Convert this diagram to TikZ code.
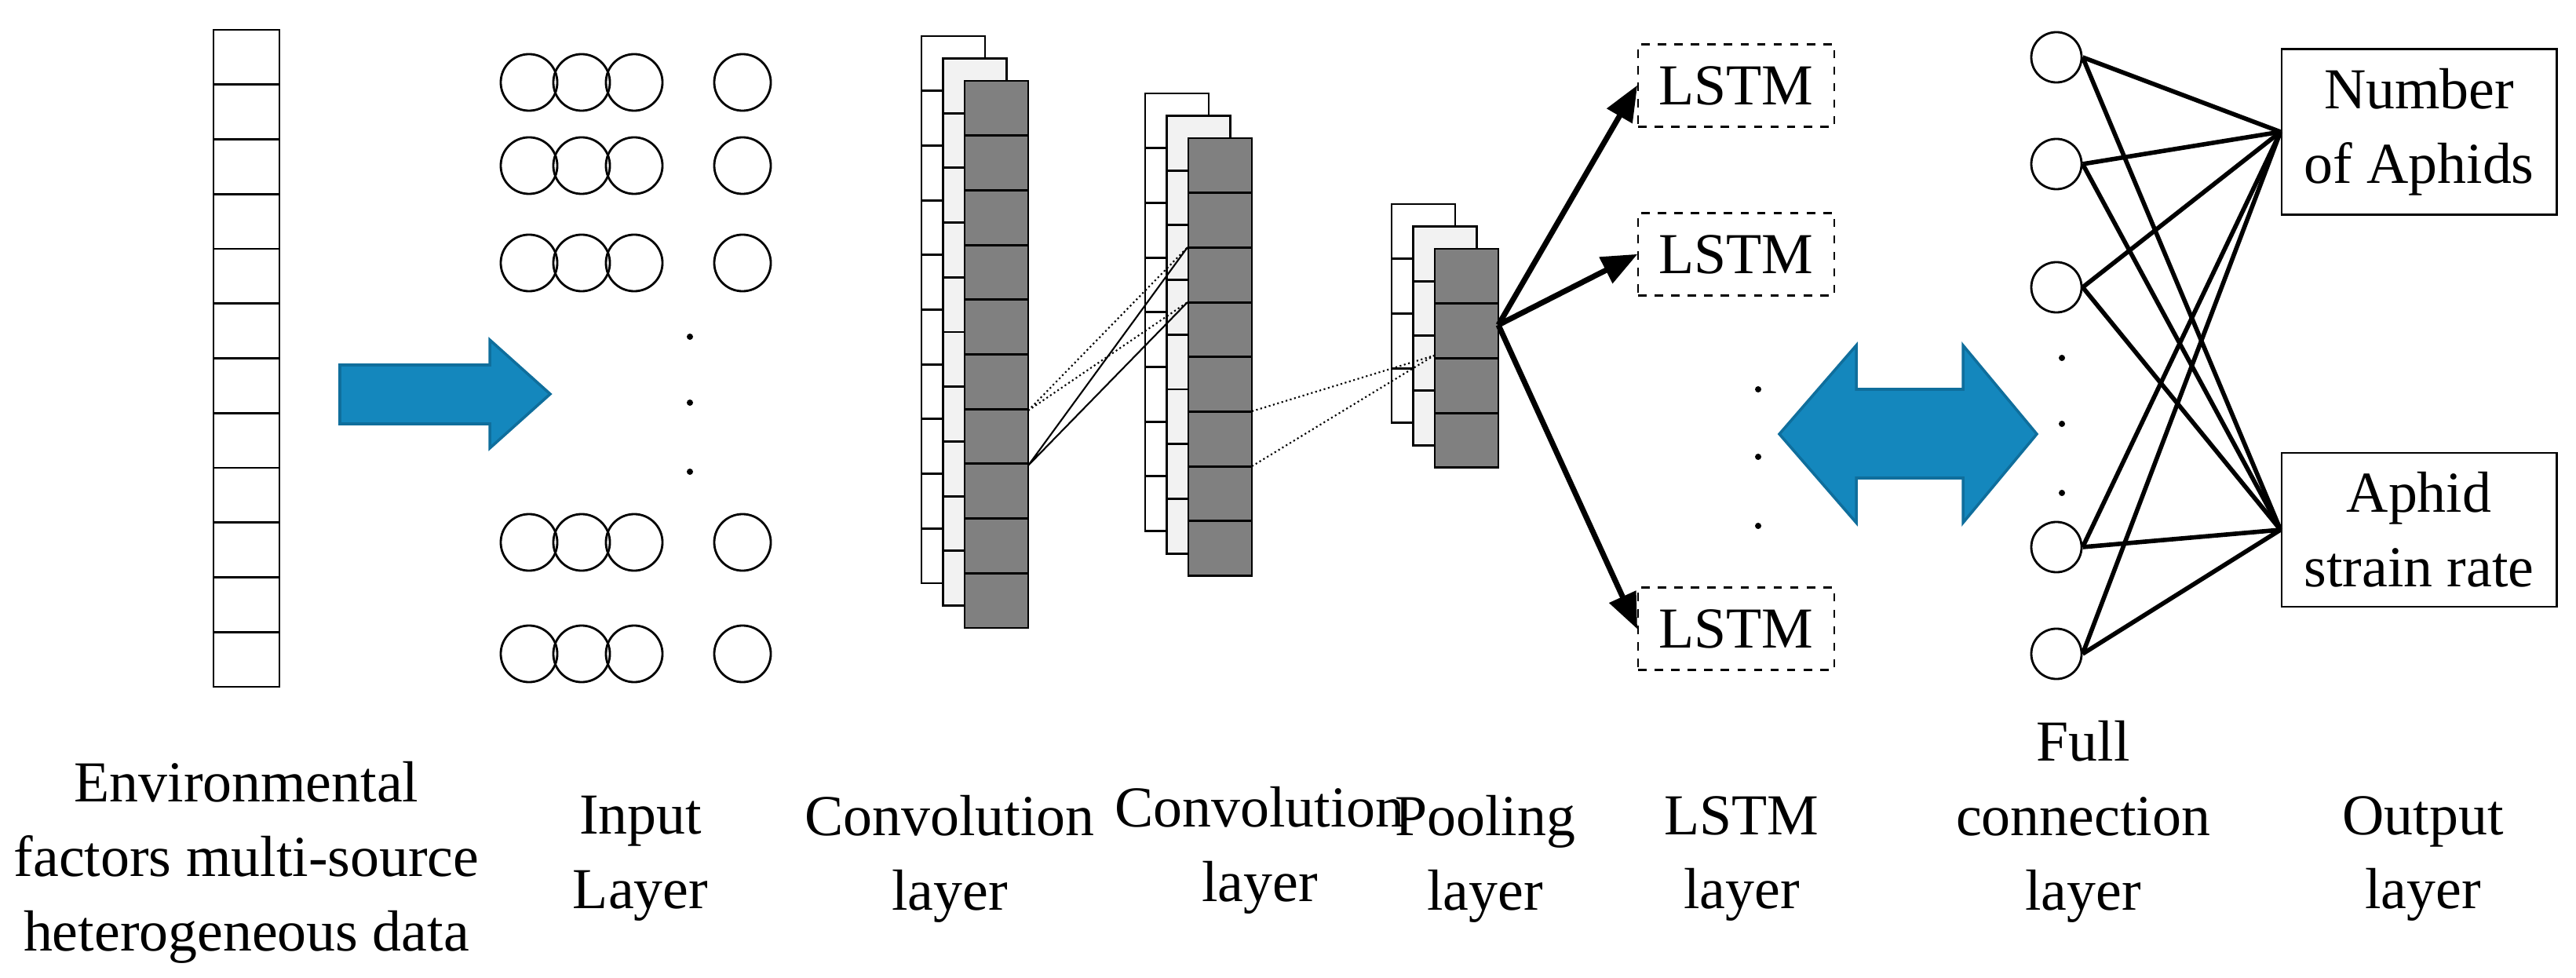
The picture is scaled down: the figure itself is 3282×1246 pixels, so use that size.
\documentclass[tikz,border=0pt]{standalone}
\usepackage{fontspec}
\setmainfont{Liberation Serif}
\usetikzlibrary{arrows,positioning,shapes}
\definecolor{arrowblue}{HTML}{1487BD}
\definecolor{arrowedge}{HTML}{0F6E9C}
\tikzset{
  cell/.style={draw, line width=0.8pt},
  neuron/.style={draw, circle, minimum size=2cm*0.36, inner sep=0pt, line width=0.8pt},
  lstm/.style={draw, dashed, minimum width=2.5cm, minimum height=1.05cm, line width=0.6pt},
  outbox/.style={draw, minimum width=3.5cm, minimum height=1.58cm, align=center, line width=0.8pt},
  lbl/.style={align=center, font=\fontsize{21}{27}\selectfont},
  bigarrow/.style={fill=arrowblue, draw=arrowedge, line width=1pt},
  fcline/.style={line width=1.6pt},
}
% one feature map: three stacked columns of cells
\newcommand{\fmap}[3]{%
  \foreach \k/\col in {0/white,1/gray!10,2/gray} {
    \foreach \i in {1,...,#3}
      \draw[cell, fill=\col] (#1+27.5*\k, #2+28.5*\k+69.7*\i-69.7) rectangle ++(81,69.7);
  }
}
\begin{document}
\begin{tikzpicture}[x=0.01cm, y=-0.01cm]
\useasboundingbox (0,0) rectangle (3282,1246);
\fontsize{21}{27}\selectfont

% source data column
\foreach \i in {1,...,12}
  \draw[cell] (272, 38+69.75*\i-69.75) rectangle ++(84,69.75);

% blue arrow
\draw[bigarrow] (433,465) -- (624,465) -- (624,433) -- (701,502) -- (624,571)
  -- (624,540) -- (433,540) -- cycle;

% input layer
\foreach \y [count=\r] in {105,211,335,691,833} {
  \foreach \x [count=\c] in {674,741,808,946}
    \node[neuron] (in\r\c) at (\x,\y) {};
}
\foreach \y in {429,513,601}
  \fill (879,\y) circle (4);

% convolution and pooling layers
\fmap{1174}{46}{10}
\fmap{1459}{119}{8}
\fmap{1773}{260}{4}

\coordinate (c1a) at (1310,523);
\coordinate (c1b) at (1310,593);
\coordinate (c2a) at (1513,315);
\coordinate (c2b) at (1513,385);
\coordinate (c2c) at (1595,524);
\coordinate (c2d) at (1595,594);
\coordinate (p1) at (1827,453);
\coordinate (pout) at (1909,414);

\draw[densely dotted, line width=0.6pt] (c1a) -- (c2a) (c1a) -- (c2b);
\draw[line width=0.6pt] (c1b) -- (c2a) (c1b) -- (c2b);
\draw[densely dotted, line width=0.6pt] (c2c) -- (p1) (c2d) -- (p1);

% LSTM layer
\node[lstm] (l1) at (2212,109) {LSTM};
\node[lstm] (l2) at (2212,324) {LSTM};
\node[lstm] (l3) at (2212,801) {LSTM};
\foreach \n in {l1,l2,l3}
  \draw[-triangle 45, line width=2pt] (pout) -- (\n.west);
\foreach \y in {496,582,670}
  \fill (2240,\y) circle (4);

% double arrow
\draw[bigarrow] (2267,553) -- (2365,440) -- (2365,496) -- (2501,496) -- (2501,440)
  -- (2595,553) -- (2501,666) -- (2501,609) -- (2365,609) -- (2365,666) -- cycle;

% full connection layer
\foreach \y [count=\r] in {73,209,366,697,833}
  \node[neuron, minimum size=2cm*0.32] (fc\r) at (2620,\y) {};
\foreach \y in {456,540,628}
  \fill (2627,\y) circle (4);

% output layer
\node[outbox] (o1) at (3082,168) {Number\\of Aphids};
\node[outbox] (o2) at (3082,675) {Aphid\\strain rate};
\foreach \r in {1,...,5} {
  \draw[fcline] (fc\r.east) -- (o1.west);
  \draw[fcline] (fc\r.east) -- (o2.west);
}

% labels
\node[lbl] (t1) at (314,1099) {Environmental\\factors multi-source\\heterogeneous data};
\node[lbl] (t2) at (816,1094) {Input\\Layer};
\node[lbl] (t3) at (1210,1094) {Convolution\\layer};
\node[lbl] (t4) at (1605,1083) {Convolution\\layer};
\node[lbl] (t5) at (1892,1094) {Pooling\\layer};
\node[lbl] (t6) at (2219,1094) {LSTM\\layer};
\node[lbl] (t7) at (2654,1047) {Full\\connection\\layer};
\node[lbl] (t8) at (3087,1094) {Output\\layer};
\end{tikzpicture}
\end{document}
